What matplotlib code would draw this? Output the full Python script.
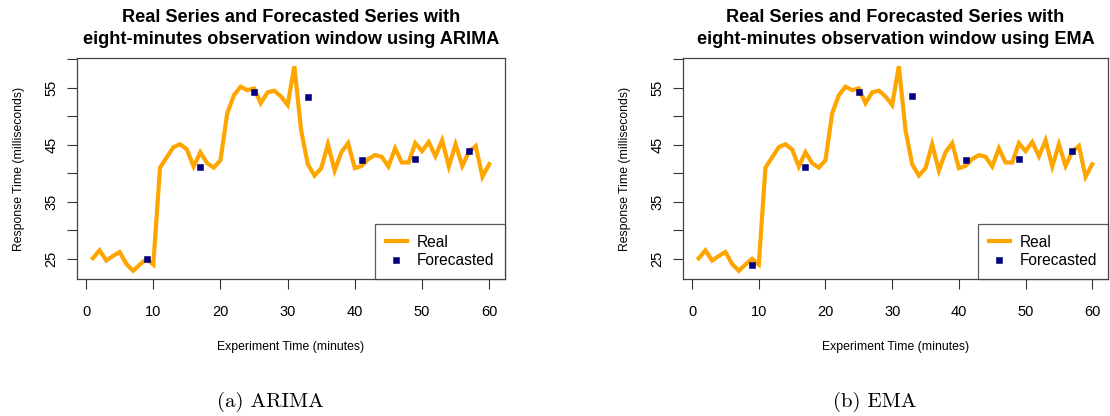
import numpy as np
import matplotlib.pyplot as plt
from matplotlib.lines import Line2D

minutes = np.arange(1, 61)
real = [25.1, 26.5, 24.7, 25.5, 26.2, 24.1, 22.9, 24.0, 25.0, 24.0,
        41.0, 42.8, 44.6, 45.1, 44.2, 41.2, 43.7, 41.8, 41.0, 42.3,
        50.5, 53.7, 55.2, 54.6, 54.9, 52.3, 54.2, 54.5, 53.5, 52.0,
        58.8, 47.6, 41.6, 39.6, 40.9, 45.1, 40.5, 43.7, 45.3, 40.9,
        41.3, 42.5, 43.2, 42.9, 41.2, 44.4, 41.9, 41.9, 45.3, 43.9,
        45.5, 43.0, 45.8, 41.2, 45.1, 41.3, 43.8, 44.8, 39.4, 41.6]
fc_minutes = [9, 17, 25, 33, 41, 49, 57]
fc_arima = [25.0, 41.2, 54.3, 53.4, 42.3, 42.5, 44.0]
fc_ema = [24.0, 41.2, 54.3, 53.5, 42.3, 42.5, 44.0]

panels = [("ARIMA", fc_arima, "(a) ARIMA"), ("EMA", fc_ema, "(b) EMA")]
boxes = [(77, 505), (683, 1108)]  # pixel left/right of each plot box
cap_x = [270, 875]

W, H = 1110, 416
fig = plt.figure(figsize=(W / 100, H / 100), dpi=100)
plt.rcParams['font.family'] = ['Liberation Sans', 'DejaVu Sans']

top, bot = 58, 279
for (name, fc, cap), (l, r), cx in zip(panels, boxes, cap_x):
    ax = fig.add_axes([l / W, (H - bot) / H, (r - l) / W, (bot - top) / H])
    ax.plot(minutes, real, color='#FFA500', lw=3, solid_joinstyle='miter', zorder=2)
    ax.plot(fc_minutes, fc, 's', color='#000080', ms=5, mew=0.4, zorder=3)
    # R-style 4% padding around the data range
    ymin, ymax = min(real), max(real)
    pad = (ymax - ymin) * 0.04
    ax.set_ylim(ymin - pad, ymax + pad)
    ax.set_xlim(1 - 59 * 0.04, 60 + 59 * 0.04)
    ax.set_xticks(range(0, 61, 10))
    ax.set_yticks(range(25, 61, 5))
    ax.set_yticklabels(['25', '', '35', '', '45', '', '55', ''])
    ax.tick_params(axis='both', direction='out', length=7.5, width=0.8,
                   labelsize=10.5, color='#333333')
    ax.tick_params(axis='x', pad=11)
    ax.tick_params(axis='y', pad=6)
    for lab in ax.get_yticklabels():
        lab.set_rotation(90)
        lab.set_va('center')
    for s in ax.spines.values():
        s.set_color('#444444')
        s.set_linewidth(0.9)
    ax.set_xlabel('Experiment Time (minutes)', fontsize=8.8, labelpad=16)
    ax.set_ylabel('Response Time (milliseconds)', fontsize=8.8, labelpad=14)
    ax.set_title('Real Series and Forecasted Series with\n'
                 'eight-minutes observation window using ' + name,
                 fontsize=13.1, fontweight='bold', pad=10, linespacing=1.37)
    handles = [Line2D([], [], color='#FFA500', lw=3),
               Line2D([], [], marker='s', ls='', color='#000080', ms=5, mew=0.4)]
    leg = ax.legend(handles, ['Real', 'Forecasted'], loc='lower right',
                    fontsize=11.2, frameon=True, fancybox=False, borderaxespad=0,
                    handlelength=1.35, handletextpad=0.65, borderpad=0.68,
                    labelspacing=0.25)
    leg.get_frame().set_edgecolor('#333333')
    leg.get_frame().set_linewidth(0.9)
    fig.text(cx / W, 1 - 402 / H, cap, ha='center', va='center',
             fontsize=15, family='cmr10')

fig.savefig('out.png', dpi=100)
